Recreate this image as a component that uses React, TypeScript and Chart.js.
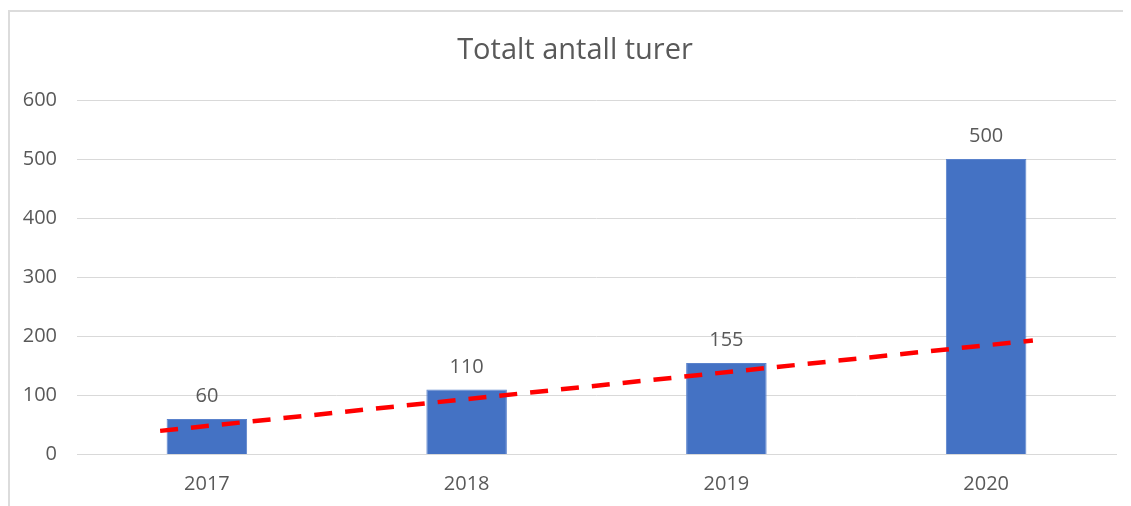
import React, { useEffect, useRef } from "react";
import { Chart, registerables } from "chart.js";

Chart.register(...registerables);

const categories = ["2017", "2018", "2019", "2020"];
const tripValues = [60, 110, 155, 500];
const trendX = [-0.18, 3.18];
const trendY = [40, 193];
const yTicks = [0, 100, 200, 300, 400, 500, 600];
const titleText = "Totalt antall turer";

const FONT = "'Open Sans', 'Noto Sans', sans-serif";
const TEXT = "#595959";
const GRID = "#d9d9d9";

const barLabels = {
  id: "barLabels",
  afterDatasetsDraw(chart: any) {
    const meta = chart.getDatasetMeta(1);
    const ctx = chart.ctx;
    ctx.save();
    ctx.font = `20px ${FONT}`;
    ctx.fillStyle = TEXT;
    ctx.textAlign = "center";
    ctx.textBaseline = "alphabetic";
    meta.data.forEach((bar: any, i: number) => {
      ctx.fillText(String(tripValues[i]), bar.x, bar.y - 17);
    });
    ctx.restore();
  },
};

const chartTitle = {
  id: "chartTitle",
  afterDraw(chart: any) {
    const ctx = chart.ctx;
    ctx.save();
    ctx.font = `29px ${FONT}`;
    ctx.fillStyle = TEXT;
    ctx.textAlign = "center";
    ctx.textBaseline = "middle";
    ctx.fillText(titleText, 565, 38.4);
    ctx.restore();
  },
};

export default function App() {
  const ref = useRef<HTMLCanvasElement | null>(null);
  useEffect(() => {
    if (!ref.current) return;
    const chart = new Chart(ref.current, {
      type: "bar",
      data: {
        labels: categories,
        datasets: [
          {
            type: "line",
            label: "Trend",
            data: trendX.map((x, i) => ({ x, y: trendY[i] })),
            xAxisID: "xT",
            borderColor: "#ff0000",
            borderWidth: 4.5,
            borderDash: [18, 13],
            pointRadius: 0,
            fill: false,
            order: 0,
          } as any,
          {
            type: "bar",
            label: "Totalt antall turer",
            data: tripValues,
            backgroundColor: "#4472c4",
            borderColor: "#5a82cc",
            borderWidth: 1,
            barPercentage: 0.31,
            categoryPercentage: 1,
            grouped: false,
            order: 1,
          } as any,
        ],
      },
      options: {
        animation: false,
        responsive: false,
        maintainAspectRatio: false,
        layout: { padding: { left: 0, right: 15, top: 88, bottom: 0 } },
        plugins: {
          legend: { display: false },
          tooltip: { enabled: false },
          title: { display: false },
        },
        scales: {
          x: {
            type: "category",
            offset: true,
            grid: { display: false, drawTicks: false },
            border: { display: true, color: GRID, width: 1 },
            ticks: { color: TEXT, font: { family: FONT, size: 20 }, padding: 18 },
            afterFit(scale: any) {
              scale.height = 51.5;
            },
          },
          xT: {
            type: "linear",
            min: -0.5,
            max: 3.5,
            offset: false,
            display: false,
          },
          y: {
            min: 0,
            max: 600,
            afterBuildTicks(scale: any) {
              scale.ticks = yTicks.map((v) => ({ value: v }));
            },
            grid: { color: GRID, lineWidth: 1, drawTicks: false },
            border: { display: false },
            ticks: { color: TEXT, font: { family: FONT, size: 20 }, padding: 20 },
            afterFit(scale: any) {
              scale.width = 67;
            },
          },
        },
      },
      plugins: [barLabels, chartTitle],
    });
    return () => chart.destroy();
  }, []);

  return (
    <div
      style={{
        marginTop: 2,
        width: 1121,
        height: 494,
        borderTop: "2px solid #dcdcdc",
        borderLeft: "2px solid #dcdcdc",
        overflow: "hidden",
      }}
    >
      <canvas ref={ref} width={1121} height={494} style={{ display: "block" }} />
    </div>
  );
}
